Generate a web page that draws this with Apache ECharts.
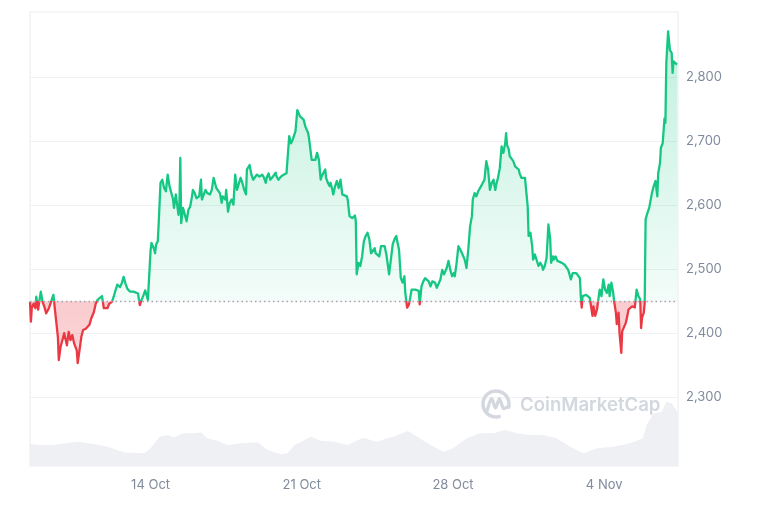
<!DOCTYPE html>
<html>
<head>
<meta charset="utf-8">
<script src="https://cdn.jsdelivr.net/npm/echarts@6/dist/echarts.min.js"></script>
<style>
html,body{margin:0;padding:0;background:#fff;}
#chart{width:760px;height:507px;}
</style>
</head>
<body>
<div id="chart"></div>
<script>
// ---- data ----
// start of the 30-day window (UTC) and the reference (opening) price
const startTimeUTC = Date.UTC(2024, 9, 8, 10);
const openPrice = 2450;

// [hours since start, price in USD]
const priceSeries = [
  [0,2449],[1,2418],[2,2440],[4,2446],[6,2439],[7,2457],[9,2437],[12,2465],[14,2449],[16,2441],
  [18,2431],[21,2439],[23,2436],[26,2460],[28,2433],[31,2394],[32,2358],[34,2379],[36,2389],[38,2400],
  [41,2381],[43,2402],[45,2389],[47,2397],[49,2384],[52,2373],[53,2353],[55,2373],[57,2394],[59,2405],
  [62,2407],[64,2410],[66,2413],[68,2423],[71,2433],[73,2446],[75,2452],[77,2449],[80,2458],[82,2439],
  [84,2441],[86,2439],[88,2446],[91,2449],[93,2457],[95,2467],[97,2476],[100,2472],[102,2478],[104,2488],
  [106,2478],[108,2470],[111,2465],[113,2467],[115,2465],[117,2466],[120,2462],[122,2444],[124,2452],[126,2459],
  [128,2467],[131,2452],[133,2451],
  [134,2530],[135,2541],[138,2531],[139,2525],[140,2538],[142,2544],[143,2572],[145,2635],[147,2640],[149,2627],
  [150,2630],[151,2622],[153,2648],[155,2630],[157,2630],[159,2609],[160,2596],[162,2617],[164,2614],[165,2585],
  [166,2598],[167,2674],[168,2572],[170,2596],[172,2593],[174,2575],[176,2593],[178,2598],[180,2614],[181,2624],
  [183,2619],[185,2611],[188,2614],[190,2640],[191,2609],[193,2609],[195,2624],[197,2619],[200,2617],[202,2624],
  [204,2643],[205,2640],[207,2627],[209,2630],[211,2619],[213,2604],[214,2614],[217,2609],[218,2624],[220,2590],
  [222,2604],[224,2609],[226,2601],[228,2648],[230,2624],[232,2622],[234,2643],[236,2635],[238,2624],[240,2617],
  [241,2656],[244,2663],[246,2648],[248,2640],[250,2643],[252,2648],[255,2645],[258,2648],[260,2643],[262,2635],
  [263,2643],[265,2650],[267,2640],[270,2645],[273,2651],[274,2645],[276,2640],[279,2645],[282,2648],[285,2650],
  [287,2653],[288,2708],[290,2697],[292,2703],[295,2716],[297,2749],[299,2747],[300,2739],[302,2742],[304,2734],
  [306,2723],[309,2713],[310,2705],[312,2682],[313,2671],[315,2674],[317,2671],[319,2682],[321,2671],[323,2640],
  [324,2645],[326,2643],[328,2656],[329,2643],[331,2635],[333,2630],[334,2635],[336,2624],[337,2617],[339,2630],
  [341,2638],[343,2627],[345,2640],[347,2617],[349,2615],[352,2614],[353,2609],[355,2583],[358,2580],[360,2583],
  [361,2584],[362,2575],[363,2492],[365,2510],[367,2505],[369,2520],[371,2544],[373,2552],[375,2557],[377,2547],
  [379,2525],[381,2528],[383,2533],[384,2525],[386,2528],[388,2520],[390,2536],[392,2539],[394,2536],[396,2523],
  [397,2525],[399,2492],[401,2492],[403,2539],[405,2547],[407,2552],[408,2544],[410,2531],[412,2486],[414,2479],
  [416,2489],[417,2463],[419,2440],[421,2445],[422,2452],[424,2468],[426,2471],[428,2468],[430,2469],[432,2466],
  [433,2445],[435,2473],[437,2481],[439,2486],[441,2489],[443,2481],[445,2473],[447,2481],[448,2481],[450,2479],
  [452,2471],[454,2468],[456,2484],[458,2499],[460,2492],[461,2489],[463,2502],[465,2513],[467,2499],[469,2489],
  [471,2494],[472,2489],[474,2510],[476,2536],[478,2531],[480,2525],[481,2528],[483,2515],[485,2502],[487,2531],
  [489,2567],[491,2583],[492,2609],[494,2619],[496,2614],[498,2622],[500,2619],[502,2632],[503,2630],[505,2640],
  [507,2669],[509,2656],[511,2624],[513,2635],[515,2640],[517,2624],[518,2632],[520,2643],[522,2658],[524,2692],
  [526,2682],[528,2697],[529,2713],[530,2695],[532,2687],[533,2677],[535,2680],[537,2669],[539,2661],[541,2664],
  [543,2656],[544,2650],[546,2643],[548,2645],[550,2643],[552,2640],[553,2598],[554,2552],[556,2557],[558,2536],
  [559,2515],[561,2523],[563,2525],[565,2505],[567,2510],[569,2505],[570,2499],[572,2505],[574,2518],[576,2570],
  [578,2547],[579,2510],[581,2520],[582,2515],[584,2520],[586,2513],[588,2515],[591,2510],[592,2513],[594,2507],
  [596,2505],[598,2499],[600,2489],
  [601,2484],[603,2494],[605,2492],[607,2494],[609,2494],[611,2486],[612,2458],[613,2440],[614,2458],[616,2455],
  [618,2460],[620,2458],[622,2455],[624,2453],[625,2427],[626,2442],[628,2427],[630,2437],[632,2458],[633,2468],
  [635,2458],[637,2484],[639,2468],[641,2463],[643,2476],[644,2458],[646,2479],[648,2463],[649,2450],[651,2432],
  [652,2414],[654,2432],[655,2401],[657,2369],[658,2403],[660,2401],[662,2416],[664,2429],[665,2437],[667,2440],
  [669,2442],[671,2445],[672,2440],[674,2468],[676,2458],[678,2453],[679,2408],[680,2424],[682,2432],[683,2447],
  [684,2578],[686,2588],[688,2596],[689,2598],[691,2619],[693,2630],[695,2638],[697,2614],[698,2650],[700,2666],
  [701,2690],[703,2697],[705,2736],[706,2729],[707,2822],[709,2872],[711,2843],[713,2838],[714,2807],[715,2825],
  [717,2822],[719,2820]
];

// [hours since start, 24h volume in billions USD]
const volumeSeries = [
  [0,9.7],[12,9.3],[27,9.3],[34,9.7],[53,10.7],[71,9.7],[86,8.5],[105,6.0],[127,5.6],[134,7.8],
  [144,12.9],[153,13.7],[160,12.6],[170,14.4],[179,14.4],[190,14.8],[197,12.2],[208,11.1],[220,9.3],[234,10.0],
  [253,10.3],[264,7.0],[279,5.2],[286,5.6],[294,9.3],[305,11.5],[312,12.9],[323,11.1],[338,10.7],[353,9.3],
  [370,12.5],[385,10.7],[403,12.9],[420,15.4],[433,12.2],[445,9.3],[459,6.3],[470,7.8],[485,12.2],[500,14.4],
  [515,14.4],[528,15.9],[541,14.4],[555,13.7],[570,13.7],[585,12.2],[600,8.5],[615,5.6],[630,7.8],[648,8.5],
  [667,10.0],[681,12.2],[685,18.1],[693,23.2],[702,23.9],[707,28.3],[713,27.6],[720,23.2]
];

const xTickDates = ['2024-10-14', '2024-10-21', '2024-10-28', '2024-11-04'];
const xTickLabels = ['14 Oct', '21 Oct', '28 Oct', '4 Nov'];
const priceMin = 2200, priceMax = 2900, priceStep = 100;

// ---- chart ----
const HOUR = 3600 * 1000;
const endTimeUTC = startTimeUTC + 720 * HOUR;
const priceData = priceSeries.map(([h, p]) => [startTimeUTC + h * HOUR, p]);
const volumeData = volumeSeries.map(([h, v]) => [startTimeUTC + h * HOUR, v]);
const xTickTimes = xTickDates.map(d => Date.parse(d + 'T00:00:00Z'));

const GREEN = '#16c784', RED = '#ea3943';
const gridTop = 13.5, gridBottom = 46, H = 507;
const baseY = gridTop + (priceMax - openPrice) / (priceMax - priceMin) * (H - gridTop - gridBottom);

function fmtThousands(v) {
  return String(v).replace(/\B(?=(\d{3})+(?!\d))/g, ',');
}
function fmtDate(v) {
  let best = 0, bestD = Infinity;
  xTickTimes.forEach((t, i) => { const d = Math.abs(t - v); if (d < bestD) { bestD = d; best = i; } });
  return bestD < HOUR ? xTickLabels[best] : '';
}

const chart = echarts.init(document.getElementById('chart'), null, {renderer: 'canvas'});
chart.setOption({
  animation: false,
  backgroundColor: '#fff',
  textStyle: {fontFamily: 'Inter, "Noto Sans", sans-serif'},
  grid: [
    {left: 30, right: 82, top: gridTop, bottom: gridBottom, show: false},
    {left: 30, right: 82, top: 12, bottom: 41, show: true, borderColor: '#eceef1', borderWidth: 1.2, backgroundColor: 'rgba(0,0,0,0)'}
  ],
  xAxis: [
    {gridIndex: 0, type: 'value', min: startTimeUTC, max: endTimeUTC, show: false, splitLine: {show: false}},
    {
      gridIndex: 1, type: 'value', min: startTimeUTC, max: endTimeUTC,
      axisLine: {show: false}, axisTick: {show: false}, splitLine: {show: false},
      axisLabel: {
        customValues: xTickTimes,
        color: '#808a9d', fontSize: 13, margin: 13,
        formatter: fmtDate
      }
    }
  ],
  yAxis: [
    {
      gridIndex: 0, type: 'value', position: 'right',
      min: priceMin, max: priceMax, interval: priceStep,
      axisLine: {show: false}, axisTick: {show: false},
      axisLabel: {showMinLabel: false, showMaxLabel: false, color: '#808a9d', fontSize: 13, margin: 8, formatter: fmtThousands},
      splitLine: {show: true, showMinLine: false, showMaxLine: false, lineStyle: {color: '#eff1f4', width: 1.2}}
    },
    {gridIndex: 1, type: 'value', min: 0, max: 200, show: false, splitLine: {show: false}}
  ],
  visualMap: {
    show: false, type: 'piecewise', seriesIndex: 1, dimension: 1,
    pieces: [
      {gte: priceMin - 1000, lt: openPrice, color: RED},
      {gte: openPrice, lte: priceMax + 1000, color: GREEN}
    ]
  },
  graphic: [
    {
      type: 'arc', z: 2, silent: true,
      shape: {cx: 496, cy: 404, r: 13, startAngle: Math.PI * 0.42, endAngle: Math.PI * 2.08, clockwise: true},
      style: {stroke: '#d3d7de', lineWidth: 3.4, fill: 'none', lineCap: 'round'}
    },
    {
      type: 'polyline', z: 2, silent: true,
      shape: {points: [[487, 411], [491.5, 398.5], [495.5, 408], [499.5, 398.5], [503.5, 408.5], [509, 406]], smooth: 0.25},
      style: {stroke: '#d3d7de', lineWidth: 3.2, fill: 'none', lineCap: 'round', lineJoin: 'round'}
    },
    {
      type: 'text', z: 2, silent: true,
      style: {text: 'CoinMarketCap', x: 520, y: 405, fill: '#d3d7de', font: '600 18.6px Inter, "Noto Sans", sans-serif', verticalAlign: 'middle'}
    }
  ],
  series: [
    {
      name: 'Volume', type: 'line', xAxisIndex: 1, yAxisIndex: 1,
      data: volumeData, showSymbol: false, silent: true, z: 1,
      lineStyle: {width: 0},
      areaStyle: {color: '#eef0f3', opacity: 1}
    },
    {
      name: 'Price', type: 'line', xAxisIndex: 0, yAxisIndex: 0,
      data: priceData, showSymbol: false, z: 3,
      lineStyle: {width: 2.3, join: 'round'},
      areaStyle: {
        origin: openPrice,
        opacity: 1,
        color: {
          type: 'linear', x: 0, y: 0, x2: 0, y2: H, global: true,
          colorStops: [
            {offset: 20 / H, color: 'rgba(22,199,132,0.28)'},
            {offset: (baseY - 0.3) / H, color: 'rgba(22,199,132,0.05)'},
            {offset: (baseY + 0.3) / H, color: 'rgba(234,57,67,0.26)'},
            {offset: 370 / H, color: 'rgba(234,57,67,0.2)'}
          ]
        }
      },
      markLine: {
        silent: true, symbol: 'none', label: {show: false},
        lineStyle: {color: '#9ea6b5', type: [1.5, 3], width: 1.3},
        data: [{yAxis: openPrice}]
      }
    }
  ]
});
</script>
</body>
</html>
